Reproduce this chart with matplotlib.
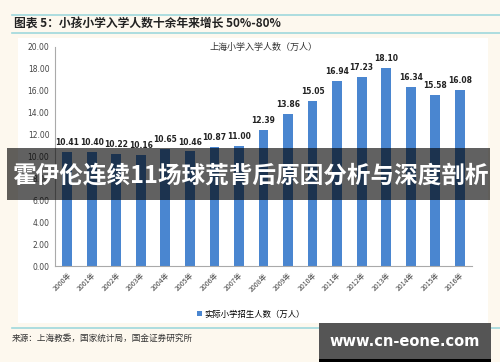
import matplotlib.pyplot as plt
from matplotlib.patches import Rectangle

plt.rcParams['font.family'] = ['Noto Sans CJK SC', 'DejaVu Sans']

years = ['2000年', '2001年', '2002年', '2003年', '2004年', '2005年', '2006年', '2007年', '2008年',
         '2009年', '2010年', '2011年', '2012年', '2013年', '2014年', '2015年', '2016年']
pupils = [10.41, 10.40, 10.22, 10.16, 10.65, 10.46, 10.87, 11.00, 12.39,
          13.86, 15.05, 16.94, 17.23, 18.10, 16.34, 15.58, 16.08]
yticks = [0, 2, 4, 6, 8, 10, 12, 14, 16, 18, 20]

W, H = 500, 362
fig = plt.figure(figsize=(W / 100, H / 100), dpi=100)
fig.patch.set_facecolor('#fdf8ee')

# white panel behind chart
fig.patches.append(Rectangle((18 / W, 1 - 323 / H), 470 / W, 285 / H, transform=fig.transFigure,
                             facecolor='white', edgecolor='none', zorder=-1))
# teal lines
for yy in [15, 33, 328]:
    fig.add_artist(plt.Line2D([12 / W, 1.0], [1 - yy / H, 1 - yy / H], transform=fig.transFigure,
                              color='#9fd8dc', lw=1.2, zorder=-1))

fig.text(14 / W, 1 - 24 / H, '图表 5：小孩小学入学人数十余年来增长 50%-80%', fontsize=8.5,
         fontweight='bold', color='#222222', va='center', ha='left')
fig.text(12 / W, 1 - 338 / H, '来源：上海教委，国家统计局，国金证券研究所', fontsize=6.2,
         color='#333333', va='center', ha='left')

ax = fig.add_axes([55 / W, 1 - 266 / H, 417 / W, 219 / H], zorder=2)
ax.set_facecolor('none')
x = list(range(len(years)))
bars = ax.bar(x, pupils, width=0.4, color='#4a86d0', label='实际小学招生人数（万人）')
for xi, v in zip(x, pupils):
    ax.text(xi, v + 0.45, f'{v:.2f}', ha='center', va='bottom', fontsize=5.5,
            fontweight='bold', color='#222222', family='DejaVu Sans')

ax.set_xlim(-0.5, len(years) - 0.5)
ax.set_ylim(0, 20)
ax.set_yticks(yticks)
ax.set_yticklabels([f'{t:.2f}' for t in yticks], fontsize=5.5, color='#444444', family='DejaVu Sans')
ax.set_xticks(x)
ax.set_xticklabels(years, rotation=45, ha='right', rotation_mode='anchor', fontsize=5, color='#444444')
ax.tick_params(length=0, pad=4)
for s in ['top', 'right']:
    ax.spines[s].set_visible(False)
ax.spines['left'].set_color('#aaaaaa')
ax.spines['bottom'].set_color('#aaaaaa')

ax.set_title('上海小学入学人数（万人）', fontsize=6.5, color='#333333', pad=-2, y=1.0)
ax.legend(loc='upper center', bbox_to_anchor=(0.47, -0.165), frameon=False, fontsize=6,
          handlelength=0.6, handleheight=0.6, handletextpad=0.3)

# overlay band with headline
fig.patches.append(Rectangle((7 / W, 1 - 200 / H), 483 / W, 52 / H, transform=fig.transFigure,
                             facecolor='black', alpha=0.62, edgecolor='none', zorder=5))
fig.text(250 / W, 1 - 175 / H, '霍伊伦连续11场球荒背后原因分析与深度剖析', fontsize=17,
         fontweight='bold', color='white', ha='center', va='center', zorder=6)

# watermark box
fig.patches.append(Rectangle((319 / W, 0), 172 / W, 39 / H, transform=fig.transFigure,
                             facecolor='#555555', edgecolor='none', zorder=5))
fig.patches.append(Rectangle((319 / W, 0), 172 / W, 3 / H, transform=fig.transFigure,
                             facecolor='black', edgecolor='none', zorder=6))
fig.text(405 / W, 1 - 341 / H, 'www.cn-eone.com', fontsize=10.5, fontweight='bold',
         color='white', ha='center', va='center', zorder=7, family='DejaVu Sans')

fig.savefig('out.png', dpi=100, facecolor=fig.get_facecolor())
